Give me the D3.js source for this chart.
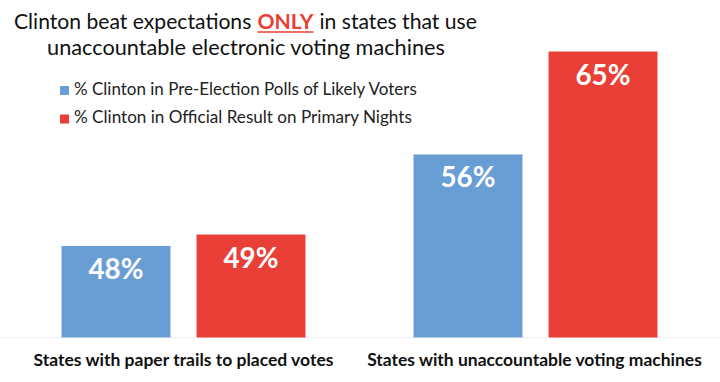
<!DOCTYPE html>
<html>
<head>
<meta charset="utf-8">
<script src="https://cdn.jsdelivr.net/npm/d3@7"></script>
<style>
  body { margin: 0; background: #fff; }
  svg { display: block; font-family: Lato, "Open Sans", sans-serif; }
</style>
</head>
<body>
<div id="chart"></div>
<script>
// data
var groups = ["States with paper trails to placed votes", "States with unaccountable voting machines"];
var seriesNames = ["% Clinton in Pre-Election Polls of Likely Voters", "% Clinton in Official Result on Primary Nights"];
var polls = [48, 56];
var results = [49, 65];
var colors = ["#689ED3", "#E93F36"];

var w = 720, h = 382;

var svg = d3.select("#chart").append("svg")
    .attr("width", w)
    .attr("height", h);

// resize font so the text comes out at the wanted width
var fitSize = function(node, width) {
    var fs = parseFloat(node.getAttribute("font-size"));
    var len = node.getComputedTextLength();
    node.setAttribute("font-size", fs * width / len);
};

// title line 1, built from three pieces so ONLY can be red and bold
var t1 = ["Clinton beat expectations", "ONLY", "in states that use"];
var t1Width = 463, t1Left = 14, gap = 6;
var tg = svg.append("g");
var pieces = tg.selectAll("text")
    .data(t1)
    .join("text")
    .attr("y", 29)
    .attr("font-size", 23)
    .attr("font-weight", function(d, i) { return i === 1 ? "bold" : null; })
    .attr("fill", function(d, i) { return i === 1 ? "#E93F36" : "#111"; })
    .text(function(d) { return d; });

var lens = pieces.nodes().map(function(n) { return n.getComputedTextLength(); });
var k = (t1Width - 2 * gap) / d3.sum(lens);
pieces.attr("font-size", 23 * k);
var xs = [];
var cx = t1Left;
lens.forEach(function(l) { xs.push(cx); cx += l * k + gap; });
pieces.attr("x", function(d, i) { return xs[i]; });

tg.append("line")
    .attr("x1", xs[1]).attr("x2", xs[1] + lens[1] * k)
    .attr("y1", 32).attr("y2", 32)
    .attr("stroke", "#E93F36")
    .attr("stroke-width", 1.5);

svg.append("text")
    .attr("x", 246)
    .attr("y", 55)
    .attr("text-anchor", "middle")
    .attr("font-size", 23)
    .attr("fill", "#111")
    .text("unaccountable electronic voting machines")
    .each(function() { fitSize(this, 398); });

// legend
var legend = svg.append("g").selectAll("g")
    .data(seriesNames)
    .join("g")
    .attr("transform", function(d, i) { return "translate(60," + (86 + i * 28.5) + ")"; });

legend.append("rect")
    .attr("width", 9)
    .attr("height", 9)
    .attr("fill", function(d, i) { return colors[i]; });

legend.append("text")
    .attr("x", 14)
    .attr("y", 8.5)
    .attr("font-size", 16)
    .attr("fill", "#222")
    .text(function(d) { return d; })
    .each(function(d, i) { fitSize(this, i === 0 ? 343 : 338); });

// scales
var x0 = d3.scaleBand()
    .domain(groups)
    .range([7.5, 711.5]);

var x1 = d3.scaleBand()
    .domain([0, 1])
    .range([0, x0.bandwidth()])
    .paddingInner(0.193)
    .paddingOuter(0.4);

var y = d3.scaleLinear()
    .domain([40, 65])
    .range([337.5, 51.5]);

// faint baseline
svg.append("line")
    .attr("x1", 0).attr("x2", w)
    .attr("y1", y(40)).attr("y2", y(40))
    .attr("stroke", "#f0f0f0")
    .attr("stroke-width", 1);

var rows = groups.map(function(g, i) {
    return [{ g: g, s: 0, v: polls[i] }, { g: g, s: 1, v: results[i] }];
});

var bars = svg.append("g").selectAll("g")
    .data(rows)
    .join("g")
    .attr("transform", function(d) { return "translate(" + x0(d[0].g) + ",0)"; })
    .selectAll("g")
    .data(function(d) { return d; })
    .join("g");

bars.append("rect")
    .attr("x", function(d) { return x1(d.s); })
    .attr("y", function(d) { return y(d.v); })
    .attr("width", x1.bandwidth())
    .attr("height", function(d) { return y(40) - y(d.v); })
    .attr("fill", function(d) { return colors[d.s]; });

bars.append("text")
    .attr("x", function(d) { return x1(d.s) + x1.bandwidth() / 2; })
    .attr("y", function(d) { return y(d.v) + 33; })
    .attr("text-anchor", "middle")
    .attr("font-size", 28)
    .attr("font-weight", "bold")
    .attr("fill", "#fff")
    .text(function(d) { return d.v + "%"; })
    .each(function() { fitSize(this, 55); });

// category labels
svg.append("g").selectAll("text")
    .data(groups)
    .join("text")
    .attr("x", function(d, i) { return x0(d) + x0.bandwidth() / 2 - i; })
    .attr("y", 366)
    .attr("text-anchor", "middle")
    .attr("font-size", 16)
    .attr("font-weight", "bold")
    .attr("fill", "#111")
    .text(function(d) { return d; })
    .each(function(d, i) { fitSize(this, i === 0 ? 300 : 335); });
</script>
</body>
</html>
